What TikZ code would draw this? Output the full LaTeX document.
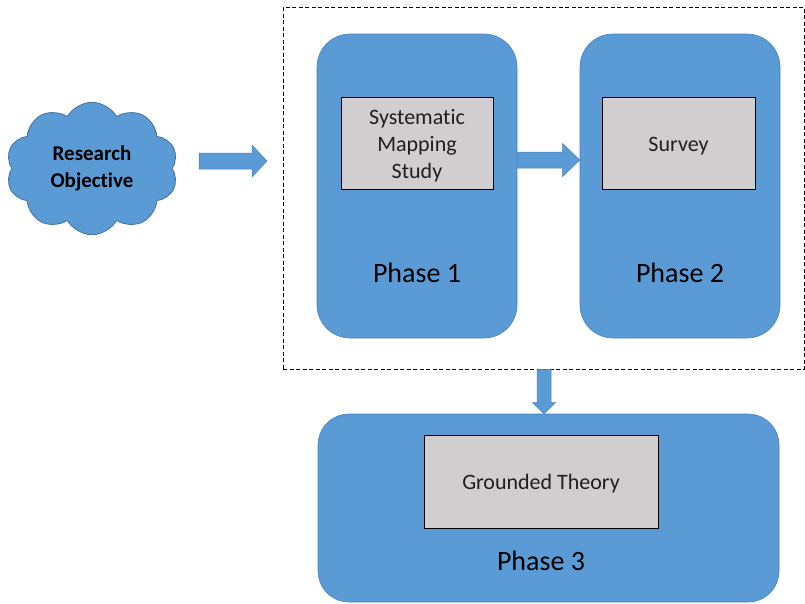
\documentclass[tikz,border=0pt]{standalone}
\usepackage{fontspec}
\setmainfont{Carlito}[Ligatures=NoCommon]
\usetikzlibrary{shapes.symbols,calc}

\definecolor{phaseblue}{HTML}{5B9BD5}
\definecolor{phaseedge}{HTML}{4A84BE}
\definecolor{cloudedge}{HTML}{41719C}
\definecolor{stepgray}{HTML}{D0CECE}

\tikzset{
  phasebox/.style={fill=phaseblue, draw=phaseedge, line width=0.6pt,
    rounded corners=33pt, inner sep=0pt},
  stepbox/.style={fill=stepgray, draw=black, line width=0.8pt,
    inner sep=0pt, align=center, text=black!88,
    font=\fontsize{22}{27}\selectfont},
  phaselabel/.style={font=\fontsize{28}{32}\selectfont, text=black, inner sep=0pt},
  blockarrow/.style={fill=phaseblue, draw=phaseedge, line width=0.5pt},
  groupframe/.style={draw=black, dashed, dash pattern=on 4pt off 2.5pt,
    line width=0.7pt, inner sep=0pt}
}

\begin{document}
\begin{tikzpicture}[x=1pt, y=-1pt]
\useasboundingbox (0,0) rectangle (805,603);

% dashed group around the first two phases
\node[groupframe, minimum width=521pt, minimum height=362pt] (frame) at (543.5,188) {};

% starting point
\node[cloud, cloud puffs=10, cloud puff arc=120, fill=phaseblue, draw=cloudedge,
      line width=0.8pt, minimum width=172pt, minimum height=122pt, align=center,
      font=\bfseries\fontsize{21}{27}\selectfont, inner sep=0pt] (cloud) at (92,168.5)
      {Research\\Objective};

% phase containers
\node[phasebox, minimum width=200pt, minimum height=304pt] (p1) at (417,186) {};
\node[phasebox, minimum width=200pt, minimum height=304pt] (p2) at (680,186) {};
\node[phasebox, rounded corners=31pt, minimum width=461pt, minimum height=188pt] (p3) at (548.5,508) {};

% activities
\node[stepbox, minimum width=152pt, minimum height=92pt] (sms) at (417,143)
  {\rule{0pt}{20pt}Systematic\\Mapping\\Study};
\node[stepbox, minimum width=153pt, minimum height=92pt] (survey) at (678.5,143)
  {\rule{0pt}{20pt}Survey};
\node[stepbox, minimum width=234pt, minimum height=93pt] (gt) at (541,481.5)
  {\rule{0pt}{20pt}Grounded Theory};

% phase titles
\node[phaselabel] (l1) at (417,273) {Phase 1};
\node[phaselabel] (l2) at (680,273) {Phase 2};
\node[phaselabel] (l3) at (541,561) {Phase 3};

% block arrows
\coordinate (a1s) at (199,161);
\coordinate (a1e) at (267,161);
\filldraw[blockarrow] ($(a1s)+(0,-8)$) -- ($(a1e)+(-15,-8)$) -- ($(a1e)+(-15,-16)$)
  -- (a1e) -- ($(a1e)+(-15,16)$) -- ($(a1e)+(-15,8)$) -- ($(a1s)+(0,8)$) -- cycle;

\coordinate (a2s) at ($(p1.east)+(0,-26)$);
\coordinate (a2e) at ($(p2.west)+(0,-26)$);
\filldraw[blockarrow] ($(a2s)+(0,-8)$) -- ($(a2e)+(-17,-8)$) -- ($(a2e)+(-17,-16.5)$)
  -- (a2e) -- ($(a2e)+(-17,16.5)$) -- ($(a2e)+(-17,8)$) -- ($(a2s)+(0,8)$) -- cycle;

\coordinate (a3s) at (frame.south -| 544,0);
\coordinate (a3e) at (p3.north -| 544,0);
\filldraw[blockarrow] ($(a3s)+(-7,0)$) -- ($(a3e)+(-7,-11)$) -- ($(a3e)+(-11.5,-11)$)
  -- (a3e) -- ($(a3e)+(11.5,-11)$) -- ($(a3e)+(7,-11)$) -- ($(a3s)+(7,0)$) -- cycle;
\end{tikzpicture}
\end{document}
